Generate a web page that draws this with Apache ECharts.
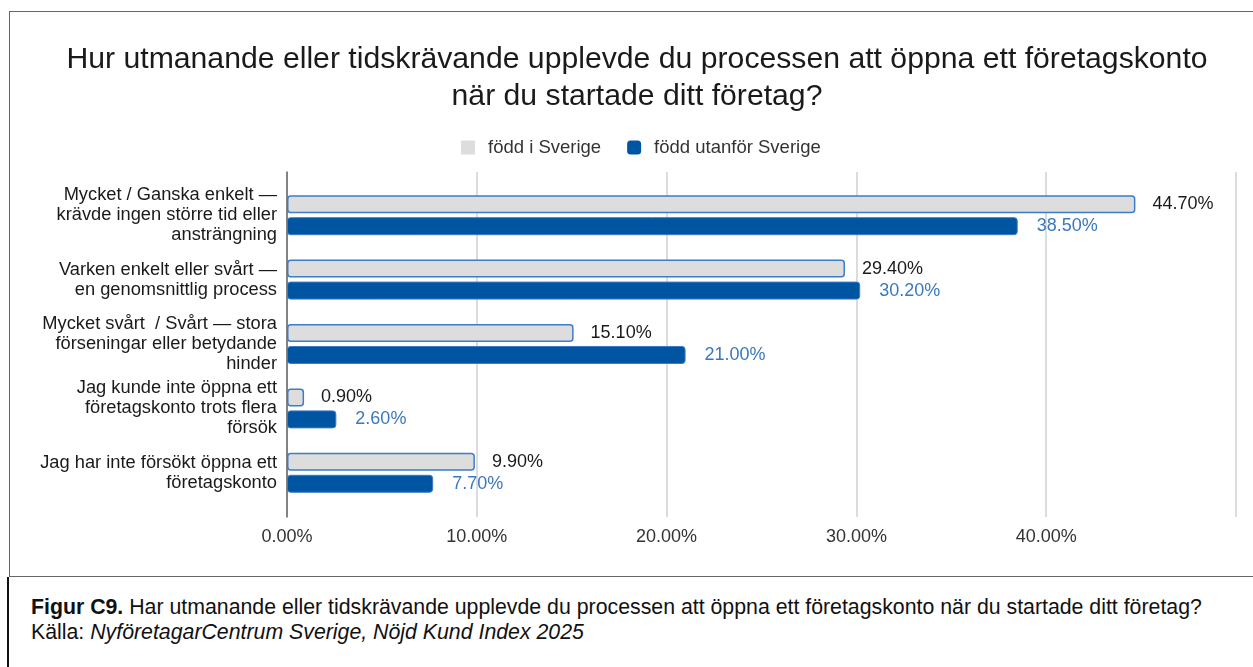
<!DOCTYPE html>
<html>
<head>
<meta charset="utf-8">
<script src="https://cdn.jsdelivr.net/npm/echarts@6/dist/echarts.min.js"></script>
<style>
  html, body { margin: 0; padding: 0; background: #fff; }
  body { width: 1253px; height: 667px; position: relative; overflow: hidden; font-family: "Liberation Sans", Arial, sans-serif; }
  #frame { position: absolute; left: 9px; top: 11px; width: 1260px; height: 564px; border: 1.5px solid #666; border-right: none; }
  #capbox { position: absolute; left: 7px; top: 577px; width: 1260px; height: 100px; border-left: 2px solid #111; }
  #caption { position: absolute; left: 31px; top: 595px; font-size: 21.3px; line-height: 25px; color: #111; white-space: nowrap; }
  #chart { position: absolute; left: 0; top: 0; width: 1253px; height: 667px; }
</style>
</head>
<body>
<div id="frame"></div>
<div id="capbox"></div>
<div id="caption"><b>Figur C9.</b> Har utmanande eller tidskrävande upplevde du processen att öppna ett företagskonto när du startade ditt företag?<br>Källa: <i>NyföretagarCentrum Sverige, Nöjd Kund Index 2025</i></div>
<div id="chart"></div>

<script type="text/javascript">
var categories = [
    'Mycket / Ganska enkelt —\nkrävde ingen större tid eller\nansträngning',
    'Varken enkelt eller svårt —\nen genomsnittlig process',
    'Mycket svårt  / Svårt — stora\nförseningar eller betydande\nhinder',
    'Jag kunde inte öppna ett\nföretagskonto trots flera\nförsök',
    'Jag har inte försökt öppna ett\nföretagskonto'
];
var seriesNames = ['född i Sverige', 'född utanför Sverige'];
var bornInSweden = [44.7, 29.4, 15.1, 0.9, 9.9];
var bornOutside = [38.5, 30.2, 21.0, 2.6, 7.7];
var xTicks = [0, 10, 20, 30, 40, 50];

var myChart = echarts.init(document.getElementById('chart'));

function pct(v) {
    return Number(v).toFixed(2) + '%';
}

var option = {
    animation: false,
    textStyle: { fontFamily: 'Liberation Sans, Arial, sans-serif' },
    graphic: [{
        type: 'text',
        x: 637,
        y: 41,
        style: {
            text: 'Hur utmanande eller tidskrävande upplevde du processen att öppna ett företagskonto\nnär du startade ditt företag?',
            fill: '#1a1a1a',
            font: '30.2px "Liberation Sans", Arial, sans-serif',
            lineHeight: 37,
            textAlign: 'center',
            textVerticalAlign: 'top'
        }
    }],
    legend: {
        left: 456,
        top: 133,
        itemWidth: 14,
        itemHeight: 14,
        itemGap: 26,
        textStyle: { fontSize: 18.5, color: '#333', padding: [0, 0, 0, 8] },
        data: [
            { name: seriesNames[0], icon: 'rect', itemStyle: { color: '#dddddd', borderWidth: 0 } },
            { name: seriesNames[1], icon: 'roundRect', itemStyle: { color: '#0055a2', borderWidth: 0 } }
        ]
    },
    grid: [
        { left: 287, right: 17, top: 172, bottom: 150 },
        { left: 287, right: 17, top: 183, bottom: 162 }
    ],
    xAxis: [{
        gridIndex: 0,
        type: 'value',
        min: xTicks[0],
        max: xTicks[xTicks.length - 1],
        interval: 10,
        axisLine: { show: false },
        axisTick: { show: false },
        splitLine: { lineStyle: { color: '#d0d0d0', width: 1.5 } },
        axisLabel: {
            fontSize: 18,
            color: '#333',
            margin: 11,
            formatter: function (v) { return v === 50 ? '' : pct(v); }
        }
    }, {
        gridIndex: 1,
        type: 'value',
        min: xTicks[0],
        max: xTicks[xTicks.length - 1],
        interval: 10,
        show: false
    }],
    yAxis: [{
        gridIndex: 0,
        type: 'category',
        data: categories,
        inverse: true,
        axisLine: { show: true, lineStyle: { color: '#666', width: 1.5 } },
        axisTick: { show: false },
        axisLabel: { show: false }
    }, {
        gridIndex: 1,
        type: 'category',
        data: categories,
        inverse: true,
        axisLine: { show: false },
        axisTick: { show: false },
        axisLabel: {
            fontSize: 18.3,
            lineHeight: 20,
            color: '#1a1a1a',
            margin: 10,
            align: 'right'
        }
    }],
    series: [{
        name: seriesNames[0],
        type: 'bar',
        xAxisIndex: 1,
        yAxisIndex: 1,
        data: bornInSweden,
        barWidth: 18,
        barGap: '22%',
        itemStyle: { color: '#dddddd', borderColor: '#3d7cc9', borderWidth: 1.5, borderRadius: 3 },
        label: {
            show: true,
            position: 'right',
            distance: 17,
            fontSize: 18,
            color: '#1a1a1a',
            formatter: function (p) { return pct(p.value); }
        }
    }, {
        name: seriesNames[1],
        type: 'bar',
        xAxisIndex: 1,
        yAxisIndex: 1,
        data: bornOutside,
        barWidth: 18,
        itemStyle: { color: '#0055a2', borderColor: '#3d7cc9', borderWidth: 1, borderRadius: 3 },
        label: {
            show: true,
            position: 'right',
            distance: 19,
            fontSize: 18,
            color: '#3a78c0',
            formatter: function (p) { return pct(p.value); }
        }
    }]
};

if (option && typeof option === 'object') {
    myChart.setOption(option, true);
}
</script>
</body>
</html>
